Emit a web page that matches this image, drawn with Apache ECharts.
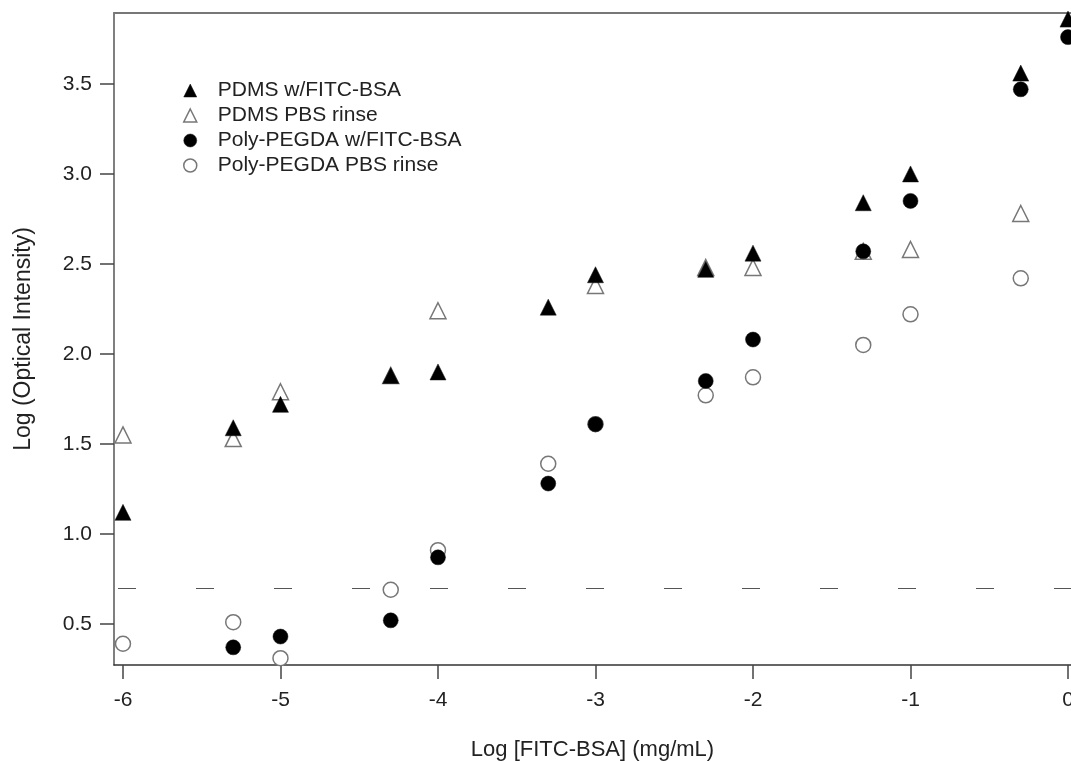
<!DOCTYPE html>
<html>
<head>
<meta charset="utf-8">
<script src="https://cdn.jsdelivr.net/npm/echarts@6/dist/echarts.min.js"></script>
<style>
  html, body { margin: 0; padding: 0; background: #fff; }
  #chart { width: 1071px; height: 761px; }
</style>
</head>
<body>
<div id="chart"></div>
<script>
// log concentration steps
const xValues = [-6, -5.3, -5, -4.3, -4, -3.3, -3, -2.3, -2, -1.3, -1, -0.3, 0];

const pdmsFitc = [1.12, 1.59, 1.72, 1.88, 1.90, 2.26, 2.44, 2.47, 2.56, 2.84, 3.00, 3.56, 3.86];
const pdmsRinse = [1.55, 1.53, 1.79, 1.88, 2.24, null, 2.38, 2.48, 2.48, 2.57, 2.58, 2.78, null];
const pegdaFitc = [null, 0.37, 0.43, 0.52, 0.87, 1.28, 1.61, 1.85, 2.08, 2.57, 2.85, 3.47, 3.76];
const pegdaRinse = [0.39, 0.51, 0.31, 0.69, 0.91, 1.39, 1.61, 1.77, 1.87, 2.05, 2.22, 2.42, null];

const xTicks = [-6, -5, -4, -3, -2, -1, 0];
const yTicks = [0.5, 1.0, 1.5, 2.0, 2.5, 3.0, 3.5];
const thresholdLevel = 0.699;

function pairs(vals) {
  return xValues.map((x, i) => [x, vals[i]]).filter(p => p[1] != null);
}

const chart = echarts.init(document.getElementById('chart'));
const font = 'Liberation Sans, Arial, sans-serif';

const filled = { color: '#000', borderColor: '#111', borderWidth: 0.5, opacity: 1 };
const open = { color: '#fff', borderColor: '#777', borderWidth: 1.5, opacity: 1 };

const option = {
  animation: false,
  backgroundColor: '#fff',
  textStyle: { fontFamily: font },
  grid: { left: 114, top: 13, right: 0, bottom: 96, outerBoundsMode: 'none', containLabel: false },
  legend: {
    orient: 'vertical',
    left: 178,
    top: 75,
    itemGap: 4,
    itemWidth: 13,
    itemHeight: 13,
    textStyle: { fontSize: 21, color: '#222', fontFamily: font, padding: [0, 0, 0, 16] },
    data: [
      { name: 'PDMS w/FITC-BSA', icon: 'triangle', itemStyle: filled },
      { name: 'PDMS PBS rinse', icon: 'triangle', itemStyle: open },
      { name: 'Poly-PEGDA w/FITC-BSA', icon: 'circle', itemStyle: filled },
      { name: 'Poly-PEGDA PBS rinse', icon: 'circle', itemStyle: open }
    ]
  },
  xAxis: [
    {
      type: 'value',
      min: -6.057,
      max: 0.019,
      name: 'Log [FITC-BSA] (mg/mL)',
      nameLocation: 'middle',
      nameGap: 74,
      nameTextStyle: { fontSize: 22, color: '#222', fontFamily: font },
      axisLine: { onZero: false, lineStyle: { color: '#333', width: 1.5 } },
      axisTick: { show: true, length: 14, customValues: xTicks, lineStyle: { color: '#444', width: 1.5 } },
      axisLabel: { customValues: xTicks, fontSize: 21, color: '#222', margin: 25, formatter: v => String(v) },
      splitLine: { show: false }
    },
    {
      type: 'value',
      position: 'top',
      min: -6.057,
      max: 0.019,
      axisLine: { show: true, lineStyle: { color: '#777', width: 2 } },
      axisTick: { show: false },
      axisLabel: { show: false },
      splitLine: { show: false }
    }
  ],
  yAxis: {
    type: 'value',
    min: 0.272,
    max: 3.894,
    name: 'Log (Optical Intensity)',
    nameLocation: 'middle',
    nameGap: 79,
    nameTextStyle: { fontSize: 23, color: '#222', fontFamily: font },
    axisLine: { show: true, onZero: false, lineStyle: { color: '#555', width: 1.5 } },
    axisTick: { show: true, length: 14, customValues: yTicks, lineStyle: { color: '#444', width: 1.5 } },
    axisLabel: { customValues: yTicks, fontSize: 21, color: '#222', margin: 22, formatter: v => v.toFixed(1) },
    splitLine: { show: false }
  },
  series: [
    {
      name: 'PDMS w/FITC-BSA',
      type: 'scatter',
      symbol: 'triangle',
      symbolSize: 16,
      z: 4,
      itemStyle: filled,
      data: pairs(pdmsFitc),
      markLine: {
        silent: true,
        symbol: 'none',
        label: { show: false },
        lineStyle: { type: [18, 60], dashOffset: 74, color: '#555', width: 1.2 },
        data: [{ yAxis: thresholdLevel }]
      }
    },
    {
      name: 'PDMS PBS rinse',
      type: 'scatter',
      symbol: 'triangle',
      symbolSize: 16,
      z: 2,
      itemStyle: open,
      data: pairs(pdmsRinse)
    },
    {
      name: 'Poly-PEGDA w/FITC-BSA',
      type: 'scatter',
      symbol: 'circle',
      symbolSize: 15,
      z: 4,
      itemStyle: filled,
      data: pairs(pegdaFitc)
    },
    {
      name: 'Poly-PEGDA PBS rinse',
      type: 'scatter',
      symbol: 'circle',
      symbolSize: 15,
      z: 2,
      itemStyle: open,
      data: pairs(pegdaRinse)
    }
  ]
};

chart.setOption(option);
</script>
</body>
</html>
